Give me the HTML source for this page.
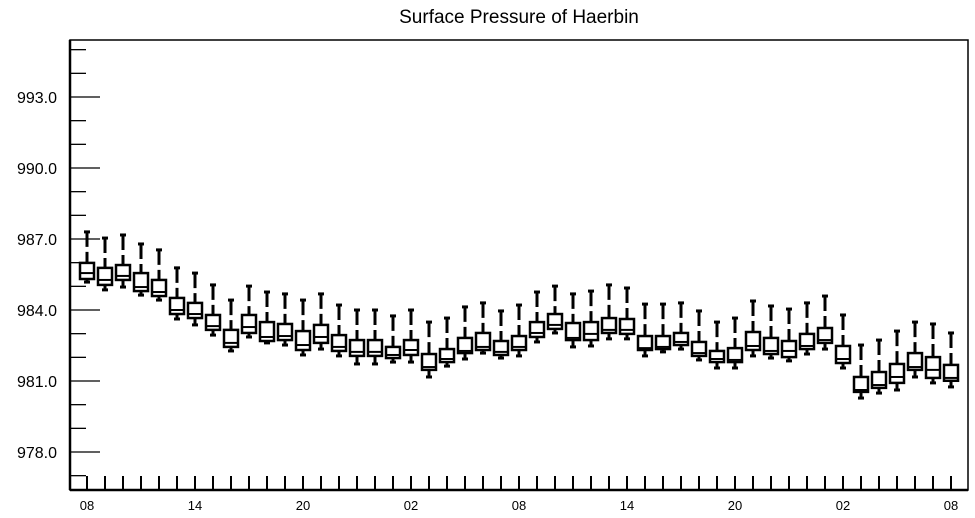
<!DOCTYPE html>
<html><head><meta charset="utf-8"><style>
body{margin:0;background:#fff;}
svg{display:block;font-family:"Liberation Sans",Arial,sans-serif;}
</style></head><body>
<svg id="chart" width="975" height="518" viewBox="0 0 975 518" xmlns="http://www.w3.org/2000/svg">
<text x="519" y="23" text-anchor="middle" font-size="19">Surface Pressure of Haerbin</text>
<g id="axes"></g>
<g id="boxes"></g>
</svg>
<script>
const whiskerHigh=[987.30,987.04,987.17,986.79,986.54,985.78,985.56,985.06,984.42,985.01,984.76,984.68,984.42,984.68,984.21,984.00,984.00,983.75,984.00,983.49,983.66,984.13,984.30,983.96,984.21,984.76,985.01,984.68,984.80,985.06,984.93,984.25,984.25,984.30,983.96,983.49,983.66,984.38,984.17,984.04,984.30,984.59,983.79,982.52,982.73,983.11,983.49,983.41,983.03];
const q3=[985.99,985.78,985.90,985.56,985.27,984.51,984.30,983.79,983.16,983.79,983.49,983.41,983.11,983.37,982.94,982.73,982.73,982.44,982.73,982.14,982.35,982.82,983.03,982.69,982.90,983.49,983.83,983.45,983.49,983.66,983.62,982.90,982.90,983.03,982.65,982.27,982.39,983.07,982.82,982.69,982.99,983.24,982.48,981.17,981.38,981.72,982.18,982.01,981.68];
const median=[985.56,985.27,985.44,984.97,984.76,984.00,983.83,983.32,982.61,983.28,982.86,982.90,982.52,982.86,982.44,982.23,982.23,982.10,982.31,981.59,981.93,982.27,982.44,982.23,982.44,983.03,983.37,982.82,982.99,983.16,983.16,982.39,982.44,982.65,982.18,981.93,981.89,982.48,982.27,982.27,982.48,982.73,981.93,980.62,980.83,981.17,981.59,981.47,981.13];
const q1=[985.31,985.06,985.27,984.80,984.59,983.83,983.66,983.16,982.44,983.03,982.69,982.73,982.31,982.61,982.27,982.06,982.06,981.97,982.10,981.47,981.80,982.18,982.31,982.10,982.31,982.86,983.20,982.73,982.73,983.03,982.99,982.31,982.35,982.52,982.06,981.80,981.80,982.31,982.14,982.01,982.35,982.61,981.76,980.54,980.71,980.92,981.47,981.13,981.01];
const whiskerLow=[985.18,984.85,984.97,984.63,984.42,983.62,983.37,982.94,982.27,982.86,982.61,982.52,982.10,982.35,982.06,981.72,981.72,981.80,981.80,981.17,981.63,981.93,982.18,981.97,982.06,982.65,983.03,982.44,982.48,982.78,982.78,982.06,982.23,982.35,981.89,981.55,981.55,982.06,981.97,981.85,982.14,982.35,981.55,980.28,980.49,980.62,981.17,980.92,980.75];
const yTickLabels=["978.0","981.0","984.0","987.0","990.0","993.0"];
const xTickLabels=["08","14","20","02","08","14","20","02","08"];

const NS="http://www.w3.org/2000/svg";
const L=70,R=968,T=40,B=490;
const y=v=>97+(993-v)*23.667;
const x=i=>87+i*18;
const axes=document.getElementById('axes');
const boxes=document.getElementById('boxes');
function mk(tag,attrs,parent){const e=document.createElementNS(NS,tag);for(const k in attrs)e.setAttribute(k,attrs[k]);parent.appendChild(e);return e;}
const frame=mk('rect',{x:L,y:T,width:R-L,height:B-T,fill:'none',stroke:'#000','stroke-width':1.5},axes);


const la=mk('line',{x1:L,y1:T,x2:L,y2:B,stroke:'#000','stroke-width':2.5},axes);


const ba=mk('line',{x1:L,y1:B,x2:R,y2:B,stroke:'#000','stroke-width':2.5},axes);


for(let v=977;v<=995;v++){
  const major=(v-978)%3===0;
  const t=mk('line',{x1:L,y1:y(v),x2:L+(major?30:16),y2:y(v),stroke:'#000','stroke-width':1.3},axes);
  
  
}
yTickLabels.forEach(s=>{
  const t=mk('text',{x:57,y:y(parseFloat(s))+6,'text-anchor':'end','font-size':16},axes);
  t.textContent=s;
  
  
});
for(let i=0;i<whiskerHigh.length;i++){
  const t=mk('line',{x1:x(i),y1:B,x2:x(i),y2:B-14,stroke:'#000','stroke-width':2},axes);
  
  
}
xTickLabels.forEach((s,k)=>{
  const t=mk('text',{x:x(k*6),y:510,'text-anchor':'middle','font-size':13},axes);
  t.textContent=s;
  
  
});
for(let i=0;i<whiskerHigh.length;i++){
  const g=mk('g',{stroke:'#000',fill:'none'},boxes);
  
  
  const cx=x(i);
  mk('line',{x1:cx,y1:y(whiskerHigh[i]),x2:cx,y2:y(q3[i]),'stroke-width':3,'stroke-dasharray':'15,5'},g);
  mk('line',{x1:cx-3,y1:y(whiskerHigh[i]),x2:cx+3,y2:y(whiskerHigh[i]),'stroke-width':3},g);
  mk('line',{x1:cx,y1:y(q1[i]),x2:cx,y2:y(whiskerLow[i]),'stroke-width':3},g);
  mk('line',{x1:cx-3,y1:y(whiskerLow[i]),x2:cx+3,y2:y(whiskerLow[i]),'stroke-width':3},g);
  mk('rect',{x:cx-7,y:y(q3[i]),width:14,height:y(q1[i])-y(q3[i]),fill:'#fff','stroke-width':2.5},g);
  mk('line',{x1:cx-7,y1:y(median[i]),x2:cx+7,y2:y(median[i]),'stroke-width':2},g);
}
</script>
</body></html>
